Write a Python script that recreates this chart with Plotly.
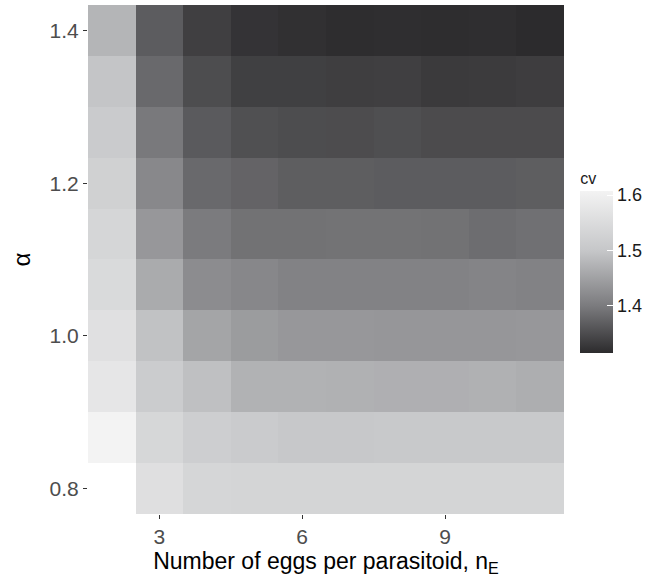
import plotly.graph_objects as go

# Number of eggs per parasitoid (x) and alpha (y)
n_eggs = [2, 3, 4, 5, 6, 7, 8, 9, 10, 11]
alpha = [0.8, 0.8667, 0.9333, 1.0, 1.0667, 1.1333, 1.2, 1.2667, 1.3333, 1.4]

# cv values, rows follow alpha (bottom to top), columns follow n_eggs
cv_080 = [None, 1.559, 1.536, 1.533, 1.533, 1.533, 1.533, 1.533, 1.533, 1.533]
cv_087 = [1.607, 1.538, 1.517, 1.510, 1.502, 1.502, 1.505, 1.505, 1.505, 1.505]
cv_093 = [1.576, 1.512, 1.491, 1.472, 1.472, 1.471, 1.469, 1.469, 1.471, 1.467]
cv_100 = [1.562, 1.493, 1.455, 1.443, 1.437, 1.437, 1.436, 1.436, 1.436, 1.437]
cv_107 = [1.545, 1.463, 1.423, 1.416, 1.409, 1.409, 1.409, 1.409, 1.412, 1.409]
cv_113 = [1.536, 1.437, 1.400, 1.390, 1.390, 1.391, 1.391, 1.390, 1.385, 1.388]
cv_120 = [1.524, 1.417, 1.381, 1.375, 1.369, 1.369, 1.367, 1.367, 1.367, 1.369]
cv_127 = [1.510, 1.398, 1.365, 1.354, 1.351, 1.350, 1.353, 1.349, 1.349, 1.349]
cv_133 = [1.497, 1.381, 1.351, 1.337, 1.337, 1.335, 1.336, 1.331, 1.332, 1.334]
cv_140 = [1.476, 1.367, 1.336, 1.324, 1.320, 1.317, 1.318, 1.317, 1.318, 1.315]

cv = [cv_080, cv_087, cv_093, cv_100, cv_107, cv_113, cv_120, cv_127, cv_133, cv_140]

cb_ticks = [1.4, 1.5, 1.6]
x_ticks = [3, 6, 9]
y_ticks = [0.8, 1.0, 1.2, 1.4]

zmin, zmax = 1.315, 1.607
gray_scale = [
    [0.0, "#2c2b2d"],
    [(1.4 - zmin) / (zmax - zmin), "#7b7b7e"],
    [(1.5 - zmin) / (zmax - zmin), "#c6c7c9"],
    [1.0, "#f3f3f3"],
]

fig = go.Figure(
    go.Heatmap(
        x=n_eggs,
        y=alpha,
        z=cv,
        zmin=zmin,
        zmax=zmax,
        colorscale=gray_scale,
        xgap=0,
        ygap=0,
        colorbar=dict(
            title=dict(text="cv", side="top", font=dict(size=16, color="#1a1a1a")),
            x=1.034,
            xanchor="left",
            xpad=0,
            y=0.316,
            yanchor="bottom",
            ypad=0,
            len=0.362,
            lenmode="fraction",
            thickness=33,
            thicknessmode="pixels",
            outlinewidth=0,
            tickvals=cb_ticks,
            ticktext=[f"{v:.1f}" for v in cb_ticks],
            ticks="inside",
            ticklen=6,
            tickcolor="white",
            tickwidth=1,
            tickfont=dict(size=18, color="#1a1a1a"),
        ),
    )
)

fig.update_layout(
    width=655,
    height=582,
    margin=dict(l=88, r=91, t=5, b=68),
    paper_bgcolor="white",
    plot_bgcolor="white",
    font=dict(family="Liberation Sans, Arial, sans-serif"),
    xaxis=dict(
        range=[1.5, 11.5],
        tickvals=x_ticks,
        ticktext=[str(v) for v in x_ticks],
        ticks="outside",
        ticklen=4,
        tickcolor="#333333",
        tickfont=dict(size=21, color="#4d4d4d"),
        showgrid=False,
        zeroline=False,
        showline=False,
        title=dict(text="Number of eggs per parasitoid, n<sub>E</sub>",
                   font=dict(size=23, color="#000000"), standoff=4),
    ),
    yaxis=dict(
        range=[0.76667, 1.43333],
        tickvals=y_ticks,
        ticktext=[f"{v:.1f}" for v in y_ticks],
        ticks="outside",
        ticklen=4,
        tickcolor="#333333",
        tickfont=dict(size=21, color="#4d4d4d"),
        showgrid=False,
        zeroline=False,
        showline=False,
        title=dict(text="α", font=dict(size=24, color="#000000"), standoff=12),
    ),
)

fig.write_html("out.html", config={"displayModeBar": False},
               post_script="document.body.style.margin='0';")
